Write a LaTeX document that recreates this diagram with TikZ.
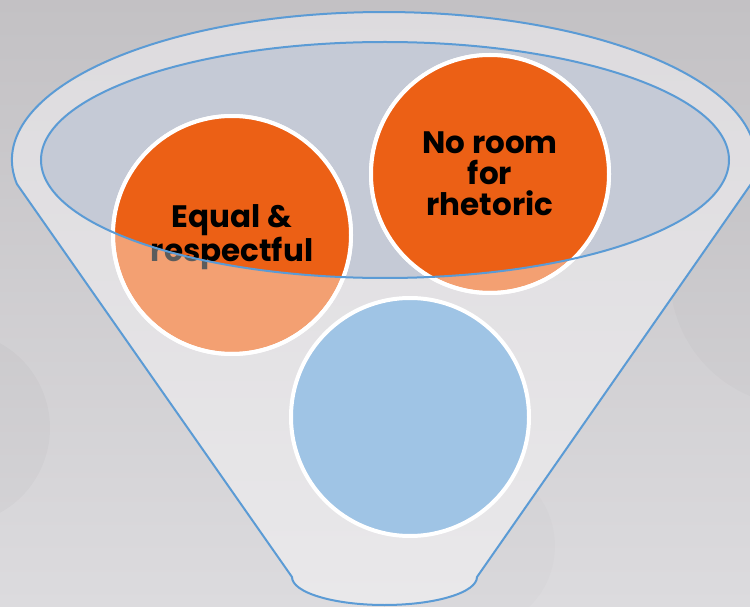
\documentclass[tikz,border=0pt]{standalone}
\usepackage{fontspec}
\newfontfamily\popfont{Poppins}[UprightFont=* Bold]
\begin{document}
\begin{tikzpicture}[x=1pt,y=1pt,
  funnelline/.style={draw=fblue,line width=2pt},
  bubble/.style={circle,minimum size=238pt,inner sep=0pt,draw=white,line width=4pt},
  lbl/.style={align=center,font=\popfont\fontsize{31}{31}\selectfont,inner sep=0pt}]
\definecolor{fblue}{HTML}{5B9BD5}
\definecolor{bgtop}{HTML}{C3C1C4}
\definecolor{bgbot}{HTML}{DCDBDE}
\definecolor{funtop}{HTML}{DDDBDE}
\definecolor{funbot}{HTML}{E9E8EA}
\definecolor{holefill}{HTML}{C5CAD6}
\definecolor{orDark}{HTML}{EC6015}
\definecolor{orLight}{HTML}{F3A072}
\definecolor{blLight}{HTML}{9FC4E5}
\definecolor{txtGray}{HTML}{5C5C5C}
\useasboundingbox (0,0) rectangle (750,606);
% background
\shade[top color=bgtop,bottom color=bgbot] (0,0) rectangle (750,606);
\fill[black,opacity=0.018] (-47,178) circle[radius=97];
\fill[black,opacity=0.015] (800,330) circle[radius=130];
\fill[black,opacity=0.012] (470,60) circle[radius=85];
% funnel body
\coordinate (fl) at (16.9,422);
\coordinate (fr) at (751.1,422);
\coordinate (bl) at (292,29);
\coordinate (br) at (477,29);
\shade[top color=funtop,bottom color=funbot]
  (fl) arc[start angle=189.33,end angle=-9.33,x radius=372,y radius=148]
  -- (br) arc[start angle=0,end angle=-180,x radius=92.5,y radius=28] -- cycle;
% opening
\fill[holefill] (385,446) ellipse[x radius=344,y radius=118];
% bubbles (light, outside the opening)
\node[bubble,fill=orLight] (c1) at (232,371) {};
\node[bubble,fill=orLight] (c2) at (490,432) {};
\node[bubble,fill=blLight] (c3) at (410,189) {};
% texts (gray part)
\node[lbl,text=txtGray] (t1) at (232,369) {Equal \&\\respectful};
\node[lbl,text=txtGray] (t2) at (490,432) {No room\\for\\rhetoric};
% strong colours inside the opening
\begin{scope}
  \clip (385,446) ellipse[x radius=344,y radius=118];
  \fill[orDark] (c1) circle[radius=119];
  \fill[orDark] (c2) circle[radius=119];
  \node[lbl,text=black] (t1b) at (t1) {Equal \&\\respectful};
  \node[lbl,text=black] (t2b) at (t2) {No room\\for\\rhetoric};
\end{scope}
\draw[white,line width=4pt] (c1) circle[radius=119];
\draw[white,line width=4pt] (c2) circle[radius=119];
% outlines
\draw[funnelline,line join=round]
  (fl) arc[start angle=189.33,end angle=-9.33,x radius=372,y radius=148]
  -- (br) arc[start angle=0,end angle=-180,x radius=92.5,y radius=28] -- cycle;
\draw[funnelline] (385,446) ellipse[x radius=344,y radius=118];
\end{tikzpicture}
\end{document}
